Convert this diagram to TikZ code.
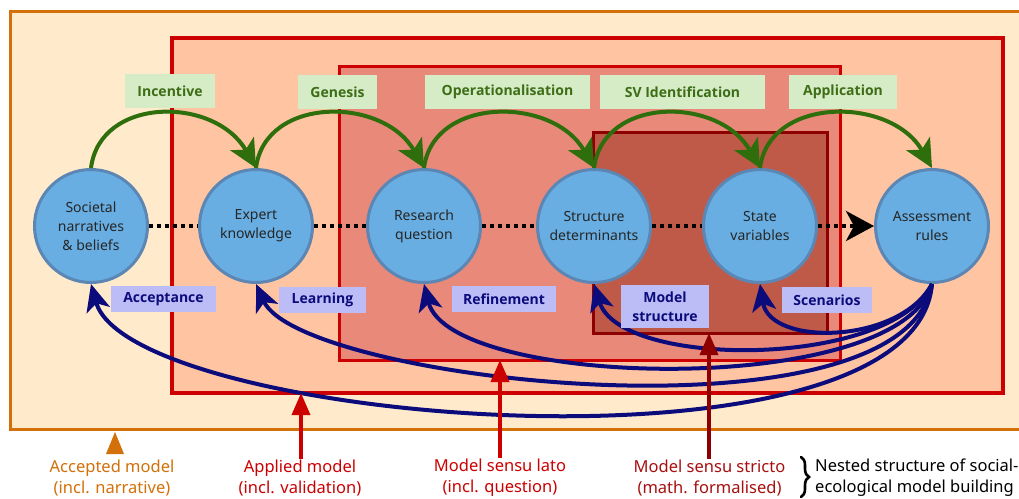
\documentclass[tikz,border=0pt]{standalone}
\usepackage{fontspec}
\setmainfont{Noto Sans}
\newfontfamily\labelfont{Open Sans}
\usetikzlibrary{arrows.meta,decorations.pathreplacing}

\definecolor{acceptfill}{HTML}{FFEBCB}
\definecolor{acceptline}{HTML}{D4700A}
\definecolor{appliedfill}{HTML}{FFC4A2}
\definecolor{redline}{HTML}{CC0000}
\definecolor{latofill}{HTML}{E8897A}
\definecolor{strictofill}{HTML}{C05A48}
\definecolor{strictoline}{HTML}{8E0000}
\definecolor{nodefill}{HTML}{68AEE2}
\definecolor{nodeline}{HTML}{5C86B4}
\definecolor{fwdgreen}{HTML}{2F6E0C}
\definecolor{fwdfill}{HTML}{D6ECC6}
\definecolor{fwdtext}{HTML}{3D6D16}
\definecolor{backblue}{HTML}{0B0B7C}
\definecolor{backfill}{HTML}{BCBCF6}
\definecolor{stricttext}{HTML}{A80F0F}

\tikzset{
  stage/.style={circle, draw=nodeline, line width=3pt, fill=nodefill,
    minimum size=113pt, inner sep=0pt, align=center,
    font=\fontsize{14}{19}\selectfont, text=black!85},
  fwdlabel/.style={fill=fwdfill, text=fwdtext, minimum height=34pt,
    inner sep=0pt, font=\labelfont\bfseries\fontsize{14}{16}\selectfont},
  backlabel/.style={fill=backfill, text=backblue, minimum height=26pt,
    inner sep=0pt, align=center, font=\labelfont\bfseries\fontsize{14}{19}\selectfont},
  fwdarrow/.style={draw=fwdgreen, line width=4pt,
    -{Stealth[length=28pt, width=27pt, inset=7pt]}},
  backarrow/.style={draw=backblue, line width=4pt,
    -{Stealth[length=27pt, width=24pt, inset=7pt]}},
  flow/.style={draw=black, line width=4pt, dash pattern=on 4pt off 4pt},
  flowhead/.style={flow, -{Stealth[length=28pt, width=30pt, inset=8pt]}},
  levelarrow/.style={line width=3.5pt, -{Triangle[length=22pt, width=18pt]}},
  levellabel/.style={align=center, inner sep=1pt,
    font=\fontsize{16.5}{21}\selectfont},
}

\begin{document}
\begin{tikzpicture}[x=1pt, y=-1pt]
\useasboundingbox (0,0) rectangle (1019,498);
\clip (0,0) rectangle (1019,498);
\fill[white] (0,0) rectangle (1019,498);

% nested model levels
\draw[fill=acceptfill, draw=acceptline, line width=3pt] (10,11) rectangle (1040,429);
\draw[fill=appliedfill, draw=redline, line width=3.5pt] (172,38) rectangle (1003,393);
\draw[fill=latofill, draw=redline, line width=3pt] (339,66) rectangle (840,360);
\draw[fill=strictofill, draw=strictoline, line width=3pt] (593,132) rectangle (827,333);

% stages of model building
\node[stage] (c1) at (91,226) {Societal\\narratives\\\& beliefs};
\node[stage] (c2) at (256,226) {Expert\\knowledge};
\node[stage] (c3) at (424,226) {Research\\question};
\node[stage] (c4) at (594,226) {Structure\\determinants};
\node[stage] (c5) at (760,226) {State\\variables};
\node[stage] (c6) at (932,226) {Assessment\\rules};

% sequence of stages
\draw[flow] (c1) -- (c2);
\draw[flow] (c2) -- (c3);
\draw[flow] (c3) -- (c4);
\draw[flow] (c4) -- (c5);
\draw[flowhead] (c5) -- (c6);

% forward steps
\node[fwdlabel, minimum width=90pt]  (incentive) at (170,91)   {Incentive};
\node[fwdlabel, minimum width=79pt]  (genesis)   at (337.5,92) {Genesis};
\node[fwdlabel, minimum width=165pt] (operat)    at (507.5,92) {Operationalisation};
\node[fwdlabel, minimum width=165pt] (svid)      at (682.5,92) {SV Identification};
\node[fwdlabel, minimum width=108pt] (applic)    at (843,92)   {Application};

\draw[fwdarrow] (c1.north) .. controls +(9,-72) and +(-41,-72) .. (c2.north);
\draw[fwdarrow] (c2.north) .. controls +(9,-72) and +(-41,-72) .. (c3.north);
\draw[fwdarrow] (c3.north) .. controls +(9,-72) and +(-41,-72) .. (c4.north);
\draw[fwdarrow] (c4.north) .. controls +(9,-72) and +(-41,-72) .. (c5.north);
\draw[fwdarrow] (c5.north) .. controls +(9,-72) and +(-41,-72) .. (c6.north);

% feedback from assessment
\draw[backarrow] (c6.south) .. controls +(-17,205) and +(39,140) .. (c1.south);
\draw[backarrow] (c6.south) .. controls +(-27,165) and +(44,98) .. (c2.south);
\draw[backarrow] (c6.south) .. controls +(-32,115) and +(26,105) .. (c3.south);
\draw[backarrow] (c6.south) .. controls +(-42,85) and +(26,85) .. (c4.south);
\draw[backarrow] (c6.south) .. controls +(-32,60) and +(10,63) .. (c5.south);

\node[backlabel, minimum width=105pt] (accept) at (163.5,299)   {Acceptance};
\node[backlabel, minimum width=87pt]  (learn)  at (322.5,299.5) {Learning};
\node[backlabel, minimum width=104pt] (refine) at (504,299)     {Refinement};
\node[backlabel, minimum width=88pt, minimum height=43pt] (mstruct) at (665,306.5) {Model\\structure};
\node[backlabel, minimum width=90pt]  (scen)   at (827,300)     {Scenarios};

% level captions
\node[levellabel, text=acceptline] (lacc) at (112,478) {Accepted model\\(incl. narrative)};
\node[levellabel, text=redline] (lapp) at (300,478) {Applied model\\(incl. validation)};
\node[levellabel, text=redline] (llato) at (500,478) {Model sensu lato\\(incl. question)};
\node[levellabel, text=stricttext] (lstr) at (709.5,478) {Model sensu stricto\\(math. formalised)};

\coordinate (appliedtip) at (301,393);
\coordinate (latotip) at (500,360);
\coordinate (strictotip) at (709,333);

\fill[acceptline] (115,432) -- (124,454) -- (106,454) -- cycle;
\draw[levelarrow, draw=redline, fill=redline] (lapp.north -| appliedtip) -- (appliedtip);
\draw[levelarrow, draw=redline, fill=redline] (llato.north -| latotip) -- (latotip);
\draw[levelarrow, draw=strictoline, fill=strictoline] (lstr.north -| strictotip) -- (strictotip);

\coordinate (bracetop) at (801,457);
\coordinate (bracebot) at (801,497);
\draw[line width=2.6pt, line cap=round, decorate, decoration={brace, amplitude=8pt}] (bracetop) -- (bracebot);
\node[levellabel, align=left, anchor=west, text=black] (nested) at (814,478)
  {Nested structure of social-\\ecological model building};
\end{tikzpicture}
\end{document}
